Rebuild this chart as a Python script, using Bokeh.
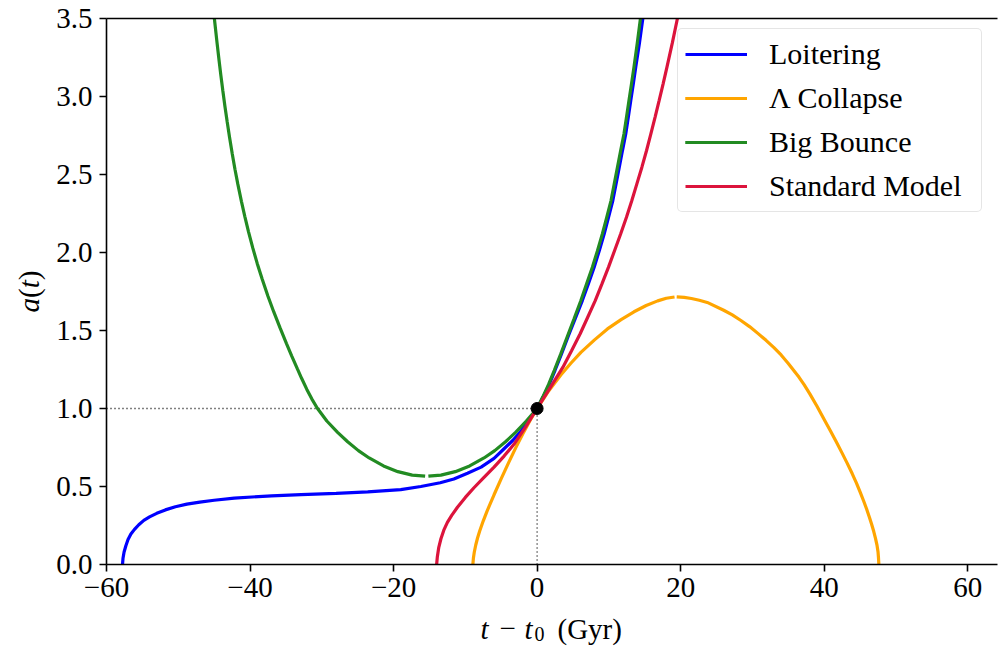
from bokeh.plotting import figure
from bokeh.models import Range1d, Label, LinearAxis, FixedTicker, Legend, LegendItem
from bokeh.embed import file_html
from bokeh.resources import INLINE

# ---------------- data ----------------
loiter_t = [-57.77, -57.7, -57.55, -57.3, -57.0, -56.6, -56.1, -55.5, -54.8, -54.0, -53.0,
            -51.8, -50.4, -48.8, -47.0, -45.0, -42.2, -37.0, -32.9, -28.0, -23.6, -19.0,
            -16.2, -13.5, -11.6, -9.7, -7.8, -6.0, -4.6, -3.4, -2.3, -1.2, 0.0,
            0.8, 1.6, 2.5, 3.4, 4.35, 5.35, 6.3, 7.15, 7.95, 8.65, 9.35, 9.95, 10.55, 11.0,
            11.45, 11.9, 12.35, 12.7, 13.05, 13.4, 13.75, 14.25, 14.73]
loiter_a = [0.0, 0.04, 0.08, 0.12, 0.16, 0.195, 0.225, 0.255, 0.283, 0.305, 0.328,
            0.35, 0.37, 0.387, 0.40, 0.412, 0.426, 0.440, 0.448, 0.456, 0.465, 0.48,
            0.50, 0.524, 0.548, 0.585, 0.624, 0.68, 0.742, 0.795, 0.852, 0.922, 1.0,
            1.07, 1.145, 1.245, 1.35, 1.465, 1.58, 1.692, 1.80, 1.906, 2.01, 2.12, 2.225,
            2.333, 2.44, 2.547, 2.655, 2.76, 2.865, 2.974, 3.08, 3.19, 3.34, 3.5]

collapse_rise_t = [-8.95, -8.88, -8.75, -8.55, -8.3, -8.0, -7.5, -7.0, -6.5, -6.0, -5.0,
                   -4.0, -3.0, -2.0, -1.0, 0.0, 1.5, 3.3, 4.7, 6.1, 8.0, 9.8, 11.7, 13.5,
                   15.2, 16.8, 18.0, 19.15]
collapse_rise_a = [0.0, 0.04, 0.08, 0.125, 0.17, 0.215, 0.28, 0.339, 0.394, 0.447, 0.55,
                   0.65, 0.746, 0.837, 0.922, 1.0, 1.105, 1.215, 1.29, 1.36, 1.44, 1.51,
                   1.57, 1.62, 1.66, 1.69, 1.707, 1.715]
collapse_fall_t = [19.45, 20.5, 21.5, 22.6, 23.7, 26.0, 27.2, 28.4, 29.6, 30.8, 31.9, 33.0,
                   34.0, 35.0, 36.5, 37.2, 38.0, 39.0, 40.0, 40.9, 41.7, 42.5, 43.2, 43.9,
                   44.5, 45.0, 45.5, 45.9, 46.3, 46.6, 46.9, 47.15, 47.35, 47.5, 47.56, 47.62]
collapse_fall_a = [1.715, 1.712, 1.705, 1.694, 1.68, 1.63, 1.60, 1.564, 1.525, 1.48, 1.437,
                   1.39, 1.343, 1.289, 1.2, 1.153, 1.094, 1.014, 0.93, 0.854, 0.785, 0.714,
                   0.65, 0.583, 0.522, 0.466, 0.407, 0.357, 0.303, 0.26, 0.213, 0.168, 0.126,
                   0.082, 0.048, 0.0]

bounce_left_t = [-15.6, -17.4, -19.4, -21.4, -23.4, -24.9, -26.4, -27.8, -29.3, -30.6, -31.4,
                 -32.1, -32.8, -33.4, -34.2, -34.92, -35.8, -36.69, -37.5, -38.3, -39.0,
                 -39.61, -40.2, -40.73, -41.2, -41.7, -42.1, -42.48, -42.85, -43.18, -43.5,
                 -43.79, -44.06, -44.31, -44.6, -44.97]
bounce_left_a = [0.566, 0.573, 0.595, 0.632, 0.683, 0.73, 0.787, 0.847, 0.92, 1.0, 1.062,
                 1.124, 1.192, 1.254, 1.338, 1.416, 1.515, 1.619, 1.72, 1.828, 1.93,
                 2.028, 2.131, 2.232, 2.328, 2.438, 2.534, 2.633, 2.737, 2.836, 2.938,
                 3.037, 3.134, 3.229, 3.345, 3.5]
bounce_right_t = [-15.15, -13.4, -11.4, -9.4, -7.4, -5.9, -4.4, -3.0, -1.5, 0.0, 0.8, 1.6,
                  2.4, 3.3, 4.2, 5.15, 6.1, 6.9, 7.7, 8.4, 9.1, 9.7, 10.3, 10.75, 11.2, 11.65,
                  12.1, 12.45, 12.8, 13.15, 13.5, 13.95, 14.4]
bounce_right_a = [0.566, 0.573, 0.595, 0.632, 0.683, 0.73, 0.787, 0.847, 0.92, 1.0, 1.075,
                  1.155, 1.245, 1.35, 1.46, 1.575, 1.692, 1.80, 1.906, 2.01, 2.12, 2.225,
                  2.333, 2.44, 2.547, 2.655, 2.76, 2.865, 2.974, 3.08, 3.19, 3.34, 3.5]

standard_t = [-14.0, -13.9, -13.7, -13.4, -13.0, -12.5, -11.9, -11.1, -10.0, -8.8, -7.4,
              -6.0, -4.6, -3.2, -1.6, 0.0, 1.85, 3.6, 4.8, 6.0, 7.05, 8.1, 9.05, 9.95, 10.8,
              11.65, 12.45, 13.2, 13.9, 14.6, 15.25, 15.85, 16.45, 17.0, 17.55, 18.1, 18.85,
              19.55]
standard_a = [0.0, 0.05, 0.11, 0.165, 0.22, 0.27, 0.315, 0.367, 0.43, 0.492, 0.558,
              0.624, 0.695, 0.772, 0.882, 1.0, 1.135, 1.265, 1.37, 1.479, 1.585, 1.692,
              1.80, 1.906, 2.013, 2.12, 2.226, 2.333, 2.44, 2.547, 2.654, 2.76, 2.87,
              2.974, 3.08, 3.19, 3.345, 3.5]

today_t = [0.0]
today_a = [1.0]
guide_h_t = [-60.0, 0.0]
guide_h_a = [1.0, 1.0]
guide_v_t = [0.0, 0.0]
guide_v_a = [0.0, 1.0]

x_ticks = [-60, -40, -20, 0, 20, 40, 60]
x_tick_labels = ["\u221260", "\u221240", "\u221220", "0", "20", "40", "60"]
y_ticks = [0.0, 0.5, 1.0, 1.5, 2.0, 2.5, 3.0, 3.5]
y_tick_labels = ["0.0", "0.5", "1.0", "1.5", "2.0", "2.5", "3.0", "3.5"]

series_names = ["Loitering", "\u039b Collapse", "Big Bounce", "Standard Model"]
series_colors = ["#0000ff", "#ffa500", "#228b22", "#dc143c"]

# axis extent of the data window
X_MIN, X_MAX = -60.0, 64.15
Y_MIN, Y_MAX = 0.0, 3.5

# ---------------- figure ----------------
FONT = "Liberation Serif"
FS = "29px"
W, H = 998, 649
FL, FR, FT, FB = 106, 997, 18, 564  # pixel box of the data window inside the canvas
sx = (FR - FL) / (X_MAX - X_MIN)
sy = (FB - FT) / (Y_MAX - Y_MIN)

p = figure(width=W, height=H, output_backend="svg", toolbar_location=None,
           x_range=Range1d(X_MIN - FL / sx, X_MAX + (W - FR) / sx),
           y_range=Range1d(Y_MIN - (H - FB) / sy, Y_MAX + FT / sy),
           min_border=0, min_border_left=0, min_border_right=0,
           min_border_top=0, min_border_bottom=0)
p.grid.visible = False
p.outline_line_color = None
p.background_fill_color = "white"
p.border_fill_color = "white"

xa = p.xaxis[0]
ya = p.yaxis[0]
xa.fixed_location = Y_MIN
xa.bounds = (X_MIN, X_MAX)
ya.fixed_location = X_MIN
ya.bounds = (Y_MIN, Y_MAX)
for ax, ticks, labels in [(xa, x_ticks, x_tick_labels), (ya, y_ticks, y_tick_labels)]:
    ax.ticker = FixedTicker(ticks=ticks)
    ax.major_label_overrides = {t: l for t, l in zip(ticks, labels)}
    ax.axis_line_width = 1.6
    ax.axis_line_color = "black"
    ax.major_tick_line_width = 1.6
    ax.major_tick_line_color = "black"
    ax.major_tick_out = 7
    ax.major_tick_in = 0
    ax.minor_tick_line_color = None
    ax.major_label_text_font = FONT
    ax.major_label_text_font_size = FS
    ax.major_label_text_color = "black"
xa.major_label_standoff = 6
ya.major_label_standoff = 7

top_axis = LinearAxis(ticker=FixedTicker(ticks=[]), fixed_location=Y_MAX, bounds=(X_MIN, X_MAX),
                      axis_line_width=1.6, axis_line_color="black",
                      major_tick_line_color=None, minor_tick_line_color=None)
p.add_layout(top_axis, "above")

# guides
p.line(guide_h_t, guide_h_a, line_color="black", line_width=1.3, line_dash="1 3")
p.line(guide_v_t, guide_v_a, line_color="black", line_width=1.3, line_dash="1 3")

LW = 3.2
r_loiter = p.line(loiter_t, loiter_a, line_color=series_colors[0], line_width=LW)
r_col1 = p.line(collapse_rise_t, collapse_rise_a, line_color=series_colors[1], line_width=LW)
r_col2 = p.line(collapse_fall_t, collapse_fall_a, line_color=series_colors[1], line_width=LW)
r_bb1 = p.line(bounce_left_t, bounce_left_a, line_color=series_colors[2], line_width=LW)
r_bb2 = p.line(bounce_right_t, bounce_right_a, line_color=series_colors[2], line_width=LW)
r_std = p.line(standard_t, standard_a, line_color=series_colors[3], line_width=LW)
p.scatter(today_t, today_a, size=12, color="black")

legend = Legend(items=[
    LegendItem(label=series_names[0], renderers=[r_loiter]),
    LegendItem(label=series_names[1], renderers=[r_col1, r_col2]),
    LegendItem(label=series_names[2], renderers=[r_bb1, r_bb2]),
    LegendItem(label=series_names[3], renderers=[r_std]),
], location=(677, H - 212))
legend.label_text_font = FONT
legend.label_text_font_size = "30px"
legend.label_text_color = "black"
legend.label_text_baseline = "middle"
legend.glyph_width = 62
legend.glyph_height = 36
legend.label_height = 36
legend.label_width = 205
legend.label_standoff = 22
legend.spacing = 8
legend.padding = 7
legend.margin = 0
legend.border_line_color = "#cccccc"
legend.border_line_width = 1.5
legend.background_fill_alpha = 0.8
if "border_radius" in Legend.properties():
    legend.border_radius = 5
p.add_layout(legend)

# axis titles built from pieces (canvas pixels, y up from the bottom)
def piece(text, x, y, size=FS, style="normal", angle=0):
    p.add_layout(Label(x=x, y=y, x_units="screen", y_units="screen", text=text,
                       text_font=FONT, text_font_size=size, text_font_style=style,
                       text_color="black", angle=angle, angle_units="deg",
                       text_align="left", text_baseline="alphabetic"))

piece("t", 480, 21, style="italic")
piece("\u2212", 499, 21)
piece("t", 524, 21, style="italic")
piece("0", 534, 16, size="20px")
piece("(Gyr)", 557, 21)

piece("a", 28, 337, style="italic", angle=90)
piece("(", 28, 351.5, angle=90)
piece("t", 28, 361.2, style="italic", angle=90)
piece(")", 28, 369.3, angle=90)

open("out.html", "w").write(file_html(p, INLINE))
